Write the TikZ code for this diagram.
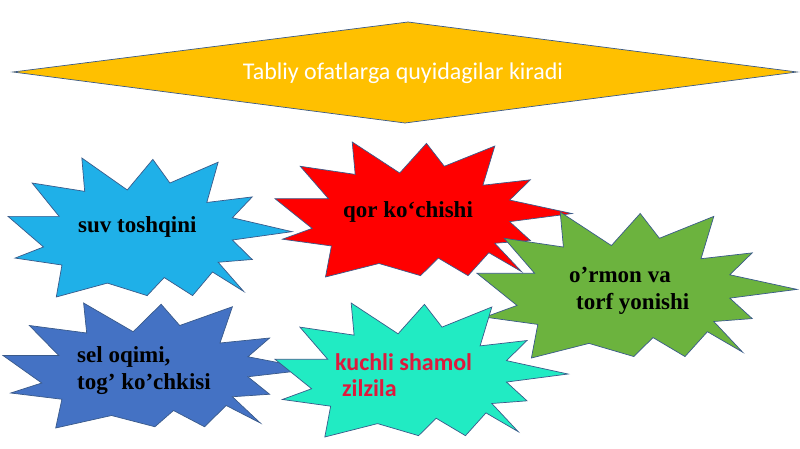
\documentclass[tikz,border=0pt]{standalone}
\usepackage{fontspec}
\newfontfamily\timesfont{Liberation Serif}
\newfontfamily\calfont{Carlito}
\definecolor{gold}{HTML}{FFC000}
\definecolor{skyblue}{HTML}{1FB0E8}
\definecolor{fire}{HTML}{FF0000}
\definecolor{leaf}{HTML}{6CB33E}
\definecolor{deepblue}{HTML}{4472C4}
\definecolor{aqua}{HTML}{21EBC3}
\definecolor{edge}{HTML}{3A5A8A}
\definecolor{crimson}{HTML}{E0183C}
\tikzset{
  outline/.style={draw=edge,line width=0.7pt,line join=miter},
  startext/.style={inner sep=0pt,anchor=west,align=left,font=\timesfont\bfseries\fontsize{23}{27}\selectfont}
}
% #1 colour, #2 #3 top left corner, #4 width, #5 height
\newcommand{\burst}[5]{%
 \begin{scope}[shift={(#2,#3)},xscale=#4,yscale=#5]
  \draw[outline,fill=#1](0,.42)--(.18,.42)--(.085,.18)--(.27,.24)--(.26,0)--(.42,.23)
   --(.51,.01)--(.57,.18)--(.74,.03)--(.70,.32)--(.86,.28)--(.79,.43)--(1,.53)
   --(.79,.59)--(.86,.73)--(.74,.75)--(.83,.96)--(.72,.82)--(.65,.99)--(.55,.86)
   --(.49,.99)--(.35,.90)--(.17,1)--(.19,.77)--(.025,.72)--(.125,.64)--cycle;
 \end{scope}}
\begin{document}
\begin{tikzpicture}[x=1pt,y=-1pt]
 \useasboundingbox (0,0) rectangle (800,449);
 % title diamond
 \draw[outline,fill=gold](13,72)--(408,22)--(797,72)--(405,123)--cycle;
 \node[inner sep=0pt,text=white,font=\calfont\fontsize{24}{28}\selectfont] (title) at (403,73) {Tabliy ofatlarga quyidagilar kiradi};
 % explosions
 \burst{skyblue}{8}{158}{284}{139}
 \burst{fire}{275}{142}{297}{135}
 \burst{leaf}{477}{212}{320}{146}
 \burst{deepblue}{3}{303}{310}{125}
 \burst{aqua}{275}{303}{293}{134}
 \node[startext] (flood) at (78,227) {suv toshqini};
 \node[startext] (snow) at (343,212) {qor ko‘chishi};
 \node[startext] (forest) at (569,291) {o’rmon va\\\hspace*{7pt}torf yonishi};
 \node[startext] (mud) at (77,371) {sel oqimi,\\tog’ ko’chkisi};
 \node[startext,text=crimson,font=\calfont\bfseries\fontsize{24}{26}\selectfont] (wind) at (335,375) {kuchli shamol\\\hspace*{7pt}zilzila};
\end{tikzpicture}
\end{document}
